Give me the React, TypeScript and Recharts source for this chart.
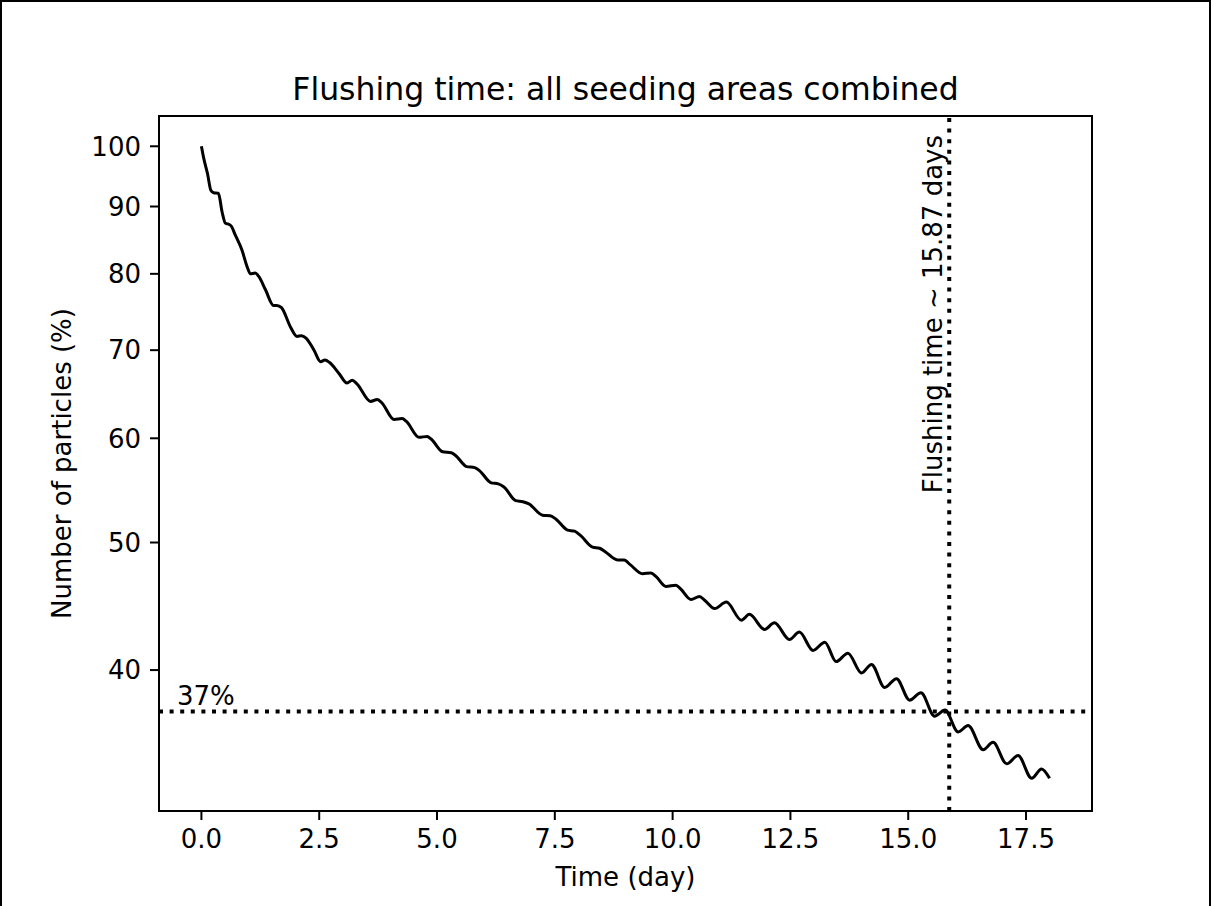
import { LineChart, Line, XAxis, YAxis, ReferenceLine, ReferenceDot, ReferenceArea } from "recharts";

// time in days (peaks, troughs and step edges)
const TIME_DAYS = [
  0, 0.05, 0.13, 0.2, 0.26, 0.36, 0.44, 0.51, 0.56, 0.63, 0.72, 0.86, 0.97,
  1.04, 1.14, 1.22, 1.36, 1.53, 1.6, 1.7, 1.89,
  2.03, 2.12, 2.22, 2.39, 2.53, 2.62, 2.72, 2.92,
  3.09, 3.2, 3.3, 3.59, 3.73, 3.82,
  4.09, 4.26, 4.35, 4.62, 4.79, 4.88,
  5.12, 5.3, 5.4, 5.63, 5.8, 5.9,
  6.15, 6.3, 6.42, 6.67, 6.82, 6.95,
  7.24, 7.4, 7.52, 7.77, 7.92,
  8.05, 8.3, 8.45, 8.57, 8.83, 8.97,
  9.1, 9.36, 9.54, 9.65, 9.86,
  10.07, 10.17, 10.39, 10.57, 10.68, 10.89,
  11.14, 11.46, 11.63, 11.95,
  12.16, 12.48, 12.69, 12.98,
  13.23, 13.47, 13.72,
  14.01, 14.22, 14.5, 14.75,
  15.03, 15.27, 15.56, 15.78,
  16.06, 16.27, 16.59, 16.8,
  17.09, 17.33, 17.62, 17.83, 18.0,
];

// particles remaining (%)
const PARTICLES = [
  100, 97.9, 95.3, 92.6, 92.2, 92.1, 89.1, 87.4, 87.3, 87.0, 85.6, 83.4, 81.0,
  80.0, 80.1, 79.6, 77.8, 75.7, 75.7, 75.4, 72.9,
  71.7, 71.8, 71.5, 70.0, 68.6, 68.8, 68.5, 67.2,
  66.1, 66.4, 66.0, 64.0, 64.2, 63.9,
  62.0, 62.1, 61.8, 60.1, 60.2, 59.9,
  58.6, 58.5, 58.2, 57.1, 57.0, 56.7,
  55.5, 55.4, 55.1, 53.8, 53.7, 53.5,
  52.45, 52.4, 52.1, 51.1, 51.0,
  50.6, 49.6, 49.5, 49.2, 48.5, 48.5,
  48.1, 47.35, 47.4, 47.1, 46.3,
  46.4, 46.1, 45.25, 45.5, 45.2, 44.55,
  45.05, 43.65, 44.1, 42.95,
  43.45, 42.2, 42.75, 41.4,
  42.0, 40.6, 41.2,
  39.8, 40.4, 38.8, 39.4,
  37.95, 38.45, 36.9, 37.3,
  35.9, 36.3, 34.8, 35.25,
  33.95, 34.45, 33.1, 33.65, 33.1,
];

const X_TICKS = [0, 2.5, 5, 7.5, 10, 12.5, 15, 17.5];
const Y_TICKS = [40, 50, 60, 70, 80, 90, 100];
const X_DOMAIN = [-0.9, 18.9];
const Y_DOMAIN = [31.26, 105.44];

const THRESHOLD_PCT = 37.2;
const FLUSHING_DAYS = 15.87;

const data = TIME_DAYS.map((t, i) => ({ t, pct: PARTICLES[i] }));

const FONT = '"DejaVu Sans", sans-serif';
const dotted = "4 6.6";

const XLabel = ({ viewBox }: any) => (
  <text x={viewBox.x + viewBox.width / 2} y={viewBox.y + 75} textAnchor="middle"
    fontSize={26} fontFamily={FONT} fill="#000">
    Time (day)
  </text>
);

const YLabel = ({ viewBox }: any) => {
  const x = viewBox.x + 71;
  const y = viewBox.y + viewBox.height / 2;
  return (
    <text x={x} y={y} transform={`rotate(-90, ${x}, ${y})`} textAnchor="middle"
      fontSize={26} fontFamily={FONT} fill="#000">
      Number of particles (%)
    </text>
  );
};

const tick = { fill: "#000", fontSize: 26, fontFamily: FONT };
const axisLine = { stroke: "#000", strokeWidth: 2 };

export default function App() {
  return (
    <div style={{ position: "relative", width: 1211, height: 906, background: "#fff", fontFamily: FONT }}>
      <style>{`body { margin: 0; }`}</style>
      <div style={{ position: "absolute", left: 159, top: 74, width: 933, textAlign: "center",
        fontSize: 31.5, lineHeight: "31px", color: "#000" }}>
        Flushing time: all seeding areas combined
      </div>
      <LineChart width={1211} height={906} data={data} margin={{ top: 116, right: 119, bottom: 0, left: 0 }}>
        <XAxis dataKey="t" type="number" domain={X_DOMAIN} ticks={X_TICKS} allowDataOverflow
          tickFormatter={(v: number) => v.toFixed(1)} height={95} tickSize={9} tickMargin={10}
          axisLine={axisLine} tickLine={axisLine} tick={tick} label={{ content: XLabel }} />
        <YAxis type="number" scale="log" domain={Y_DOMAIN} ticks={Y_TICKS} allowDataOverflow
          width={159} tickSize={9} tickMargin={9}
          axisLine={axisLine} tickLine={axisLine} tick={tick} label={{ content: YLabel }} />
        <ReferenceArea x1={X_DOMAIN[0]} x2={X_DOMAIN[1]} y1={Y_DOMAIN[0]} y2={Y_DOMAIN[1]}
          fill="none" fillOpacity={0} stroke="#000" strokeWidth={2} />
        <Line dataKey="pct" type="monotone" stroke="#000" strokeWidth={3} dot={false} isAnimationActive={false} />
        <ReferenceLine y={THRESHOLD_PCT} stroke="#000" strokeWidth={4} strokeDasharray={dotted} />
        <ReferenceLine x={FLUSHING_DAYS} stroke="#000" strokeWidth={4} strokeDasharray={dotted} />
        <ReferenceDot x={-0.52} y={THRESHOLD_PCT} r={0}
          shape={({ cx, cy }: any) => (
            <text x={cx} y={cy - 7} fontSize={26} fontFamily={FONT} fill="#000">37%</text>
          )} />
        <ReferenceDot x={FLUSHING_DAYS} y={54.5} r={0}
          shape={({ cx, cy }: any) => (
            <text x={cx - 7} y={cy} transform={`rotate(-90, ${cx - 7}, ${cy})`}
              fontSize={26} fontFamily={FONT} fill="#000">
              Flushing time ~ 15.87 days
            </text>
          )} />
      </LineChart>
      <div style={{ position: "absolute", left: 0, top: 0, width: 1211, height: 906, boxSizing: "border-box",
        borderTop: "2px solid #000", borderLeft: "2px solid #000", borderRight: "2px solid #000",
        pointerEvents: "none" }} />
    </div>
  );
}
